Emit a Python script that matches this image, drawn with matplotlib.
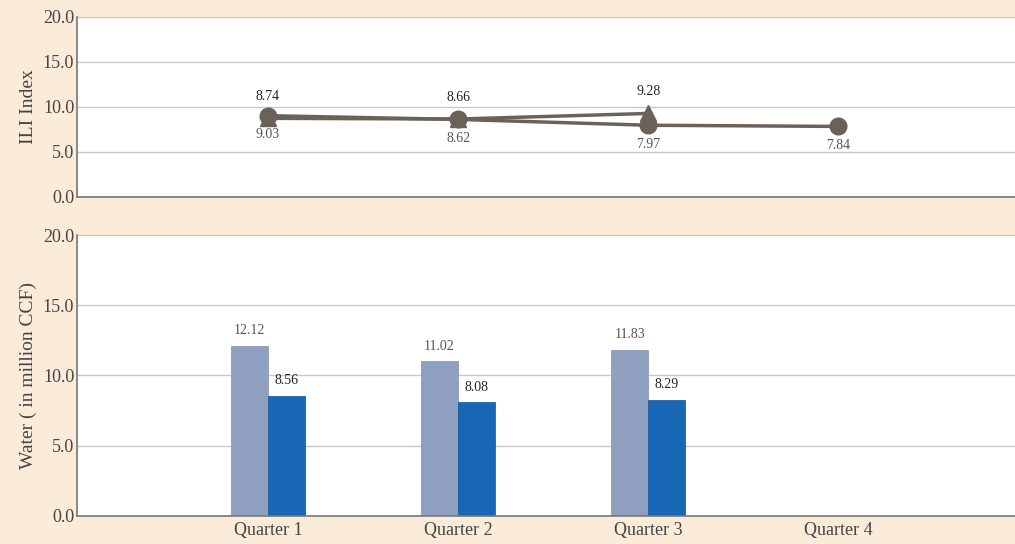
import matplotlib
matplotlib.use('Agg')
import matplotlib.pyplot as plt
import numpy as np

quarters = ['Quarter 1', 'Quarter 2', 'Quarter 3', 'Quarter 4']
ili_circle = [9.03, 8.62, 7.97, 7.84]
ili_triangle = [8.74, 8.66, 9.28]
water_light = [12.12, 11.02, 11.83]
water_dark = [8.56, 8.08, 8.29]

bg = '#FBEBD9'
line_col = '#6A6258'
grid_col = '#C8C8C8'
text_col = '#444444'

plt.rcParams['font.family'] = ['Liberation Serif', 'DejaVu Serif']

fig = plt.figure(figsize=(10.15, 5.44), dpi=100)
fig.patch.set_facecolor(bg)

ax1 = fig.add_axes([0.0759, 0.6379, 0.9241, 0.3309])
ax2 = fig.add_axes([0.0759, 0.0515, 0.9241, 0.5165])

x = np.arange(len(quarters))
xlim = (-1.005, 3.93)

for ax in (ax1, ax2):
    ax.set_facecolor('white')
    ax.set_xlim(*xlim)
    ax.set_ylim(0, 20)
    ax.set_yticks([0, 5, 10, 15, 20])
    ax.set_yticklabels(['%.1f' % v for v in [0, 5, 10, 15, 20]])
    ax.grid(axis='y', color=grid_col, linewidth=1)
    ax.set_axisbelow(True)
    ax.spines['top'].set_visible(False)
    ax.spines['right'].set_visible(False)
    ax.spines['left'].set_color('#777777')
    ax.spines['bottom'].set_color('#777777')
    ax.spines['left'].set_linewidth(1.2)
    ax.spines['bottom'].set_linewidth(1.2)
    ax.tick_params(axis='y', length=0, labelsize=13, labelcolor=text_col, pad=2)
    ax.tick_params(axis='x', length=0)

# top: ILI index lines
ax1.plot(x[:3], ili_triangle, color=line_col, linewidth=2.5, marker='^',
         markersize=12, zorder=3)
ax1.plot(x, ili_circle, color=line_col, linewidth=2.5, marker='o',
         markersize=12, zorder=4)
for xi, v in zip(x[:3], ili_triangle):
    ax1.annotate('%.2f' % v, (xi, v), xytext=(0, 11), textcoords='offset points',
                 ha='center', va='bottom', fontsize=10, color='#222222')
for xi, v in zip(x, ili_circle):
    ax1.annotate('%.2f' % v, (xi, v), xytext=(0, -9), textcoords='offset points',
                 ha='center', va='top', fontsize=10, color='#555555')
ax1.set_xticks([])
ax1.set_ylabel('ILI Index', fontsize=14, color=text_col, labelpad=4)

# bottom: water bars
w = 0.195
b1 = ax2.bar(x[:3] - w / 2, water_light, width=w, color='#8E9FBF',
             edgecolor='#7F90B0', linewidth=0.5)
b2 = ax2.bar(x[:3] + w / 2, water_dark, width=w, color='#1767B5',
             edgecolor='#10569C', linewidth=0.5)
for rect, v in zip(b1, water_light):
    ax2.annotate('%.2f' % v, (rect.get_x() + rect.get_width() / 2, v), xytext=(0, 6),
                 textcoords='offset points', ha='center', va='bottom',
                 fontsize=10, color='#555555')
for rect, v in zip(b2, water_dark):
    ax2.annotate('%.2f' % v, (rect.get_x() + rect.get_width() / 2, v), xytext=(0, 6),
                 textcoords='offset points', ha='center', va='bottom',
                 fontsize=10, color='#222222')
ax2.set_xticks(x)
ax2.set_xticklabels(quarters)
ax2.tick_params(axis='x', labelsize=13, labelcolor=text_col, pad=4)
ax2.set_ylabel('Water ( in million CCF)', fontsize=14, color=text_col, labelpad=4)

fig.savefig('out.png', dpi=100, facecolor=bg)
